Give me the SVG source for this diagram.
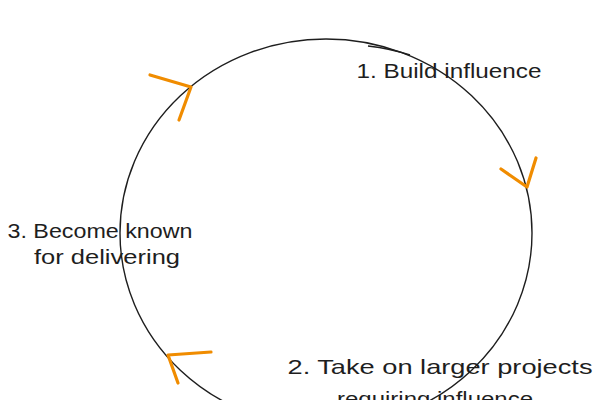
<svg xmlns="http://www.w3.org/2000/svg" width="600" height="400" viewBox="0 0 600 400">
<style>
.cyc{fill:none;stroke:#1e1e1e;stroke-width:1.4}
.arr{fill:none;stroke:#f08c00;stroke-width:3.2;stroke-linecap:round;stroke-linejoin:round}
.lbl{font-family:"Liberation Sans","DejaVu Sans",sans-serif;font-size:21px;fill:#1e1e1e;text-anchor:middle}
</style>
<rect width="600" height="400" fill="#ffffff"/>
<g id="connectors">
<ellipse class="cyc" cx="326" cy="233" rx="206" ry="194"/>
<path class="cyc" d="M368,46 C385,48 398,51 410,55"/>
<path class="arr" d="M150,75 L191,87 L179,120"/>
<path class="arr" d="M501,169 L527,187 L536,158"/>
<path class="arr" d="M211,352 L168,355 L178,383"/>
</g>
<g id="node-build">
<text class="lbl" x="449" y="78" textLength="185" lengthAdjust="spacingAndGlyphs">1. Build influence</text>
</g>
<g id="node-take">
<text class="lbl" x="440" y="374" textLength="305" lengthAdjust="spacingAndGlyphs">2. Take on larger projects</text>
<text class="lbl" x="435" y="406" textLength="196" lengthAdjust="spacingAndGlyphs">requiring influence</text>
</g>
<g id="node-known">
<text class="lbl" x="100" y="238" textLength="185" lengthAdjust="spacingAndGlyphs">3. Become known</text>
<text class="lbl" x="107" y="264" textLength="146" lengthAdjust="spacingAndGlyphs">for delivering</text>
</g>
</svg>
